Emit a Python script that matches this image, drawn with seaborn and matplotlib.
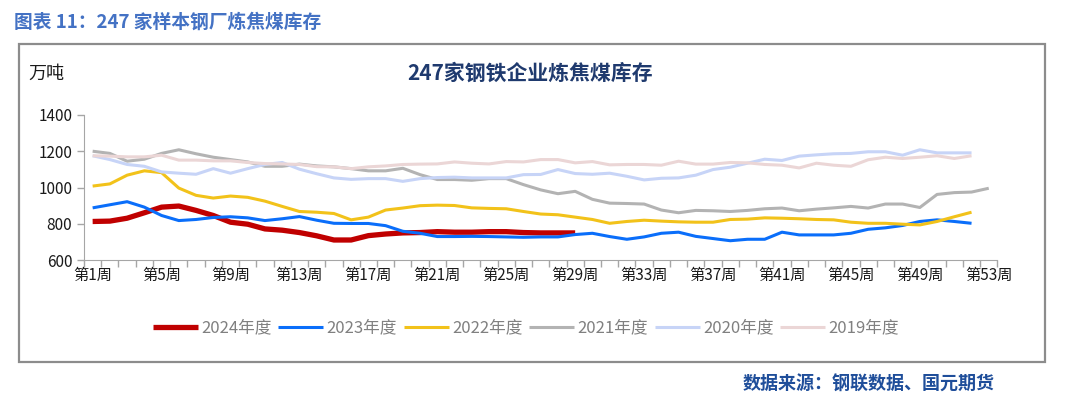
import numpy as np
import pandas as pd
import matplotlib
matplotlib.use('Agg')
import matplotlib.pyplot as plt
from matplotlib.patches import Rectangle
import seaborn as sns

# weekly coking coal stock, 10k tonnes
WEEKS = [f'第{i}周' for i in range(1, 54)]

Y2024 = [813, 815, 831, 861, 892, 898, 874, 846, 809, 798, 772, 765, 752, 734,
         711, 711, 735, 744, 750, 752, 757, 754, 754, 757, 757, 752, 750, 750,
         750]
Y2023 = [888, 905, 922, 892, 846, 818, 824, 835, 839, 833, 818, 828, 840, 820,
         803, 802, 802, 790, 759, 748, 730, 730, 731, 730, 728, 726, 728, 728,
         741, 748, 730, 715, 728, 748, 754, 731, 719, 707, 715, 715, 754, 739,
         739, 739, 748, 770, 778, 791, 813, 822, 813, 803]
Y2022 = [1008, 1020, 1068, 1092, 1082, 997, 957, 942, 953, 946, 925, 896, 868,
         864, 857, 822, 837, 876, 887, 900, 903, 901, 888, 885, 883, 868, 854,
         850, 837, 824, 803, 813, 820, 815, 811, 809, 809, 824, 826, 833, 831,
         828, 824, 822, 809, 803, 803, 798, 794, 813, 839, 864]
Y2021 = [1200, 1188, 1145, 1156, 1188, 1208, 1186, 1167, 1154, 1141, 1117,
         1117, 1129, 1119, 1114, 1104, 1092, 1092, 1106, 1071, 1044, 1044,
         1040, 1049, 1049, 1016, 987, 966, 979, 935, 914, 912, 909, 876, 861,
         874, 872, 868, 874, 883, 887, 872, 881, 888, 896, 887, 909, 909, 890,
         962, 972, 975, 996]
Y2020 = [1175, 1154, 1127, 1117, 1086, 1079, 1073, 1104, 1079, 1104, 1127,
         1138, 1101, 1076, 1053, 1045, 1049, 1049, 1034, 1049, 1055, 1057,
         1053, 1053, 1053, 1071, 1072, 1099, 1077, 1073, 1079, 1062, 1042,
         1051, 1053, 1068, 1099, 1112, 1134, 1156, 1149, 1173, 1180, 1186,
         1188, 1197, 1197, 1178, 1208, 1191, 1191, 1191]
Y2019 = [1175, 1173, 1169, 1169, 1178, 1151, 1151, 1147, 1147, 1138, 1132,
         1130, 1127, 1115, 1114, 1104, 1114, 1119, 1127, 1129, 1130, 1141,
         1134, 1130, 1143, 1141, 1154, 1154, 1136, 1143, 1125, 1127, 1127,
         1123, 1145, 1129, 1129, 1138, 1136, 1127, 1123, 1108, 1134, 1123,
         1117, 1153, 1167, 1160, 1167, 1175, 1160, 1175]

SERIES = [
    ('2024年度', Y2024, '#C00000', 3.8),
    ('2023年度', Y2023, '#0A6EFA', 2.2),
    ('2022年度', Y2022, '#F2C21A', 2.2),
    ('2021年度', Y2021, '#B3B3B3', 2.2),
    ('2020年度', Y2020, '#C7D4F7', 2.2),
    ('2019年度', Y2019, '#EBD6D6', 2.2),
]

sns.set_style('ticks')
plt.rcParams['font.family'] = ['Noto Sans CJK SC', 'DejaVu Sans']

fig = plt.figure(figsize=(10.8, 3.99), dpi=100)
ax = fig.add_axes([0.0778, 0.348, 0.8457, 0.364])

for name, vals, color, lw in SERIES:
    df = pd.DataFrame({'pos': np.arange(len(vals)), 'value': vals})
    sns.lineplot(data=df, x='pos', y='value', ax=ax, color=color,
                 linewidth=lw, label=name, solid_capstyle='butt')

ax.set_xlim(-0.5, len(WEEKS) - 0.5)
ax.set_ylim(600, 1400)
ax.set_yticks(range(600, 1401, 200))
ax.set_xticks(np.arange(-0.5, len(WEEKS), 1.0))
ax.set_xticklabels([])
ax.set_xticks(np.arange(0, len(WEEKS), 4), minor=True)
ax.set_xticklabels(WEEKS[::4], minor=True)
ax.tick_params(axis='x', which='major', length=5, color='#A6A6A6', width=1)
ax.tick_params(axis='x', which='minor', length=0, labelsize=11, pad=5,
               labelcolor='#1a1a1a')
ax.tick_params(axis='y', length=5, color='#A6A6A6', width=1, labelsize=11,
               labelcolor='#1a1a1a')
ax.set_xlabel('')
ax.set_ylabel('')
sns.despine(ax=ax, top=True, right=True)
for side in ['left', 'bottom']:
    ax.spines[side].set_color('#A6A6A6')

ax.legend(loc='center', bbox_to_anchor=(0.487, 0.178),
          bbox_transform=fig.transFigure, ncol=6, frameon=False,
          fontsize=12, handlelength=2.7, handletextpad=0.2,
          columnspacing=0.4, labelcolor='#808080')

# outer frame and texts
fig.patches.append(Rectangle((0.0176, 0.093), 0.95, 0.797,
                             transform=fig.transFigure, fill=False,
                             edgecolor='#8C8C8C', linewidth=1.6))
fig.text(0.013, 0.945, '图表 11：247 家样本钢厂炼焦煤库存', fontsize=13.5,
         fontweight='bold', color='#4472C4', va='center', ha='left')
fig.text(0.491, 0.817, '247家钢铁企业炼焦煤库存', fontsize=15,
         fontweight='bold', color='#1F3A6E', va='center', ha='center')
fig.text(0.026, 0.815, '万吨', fontsize=13, color='#1a1a1a',
         va='center', ha='left')
fig.text(0.921, 0.038, '数据来源：钢联数据、国元期货', fontsize=13,
         fontweight='bold', color='#1F4E9A', va='center', ha='right')

fig.savefig('out.png', dpi=100)
